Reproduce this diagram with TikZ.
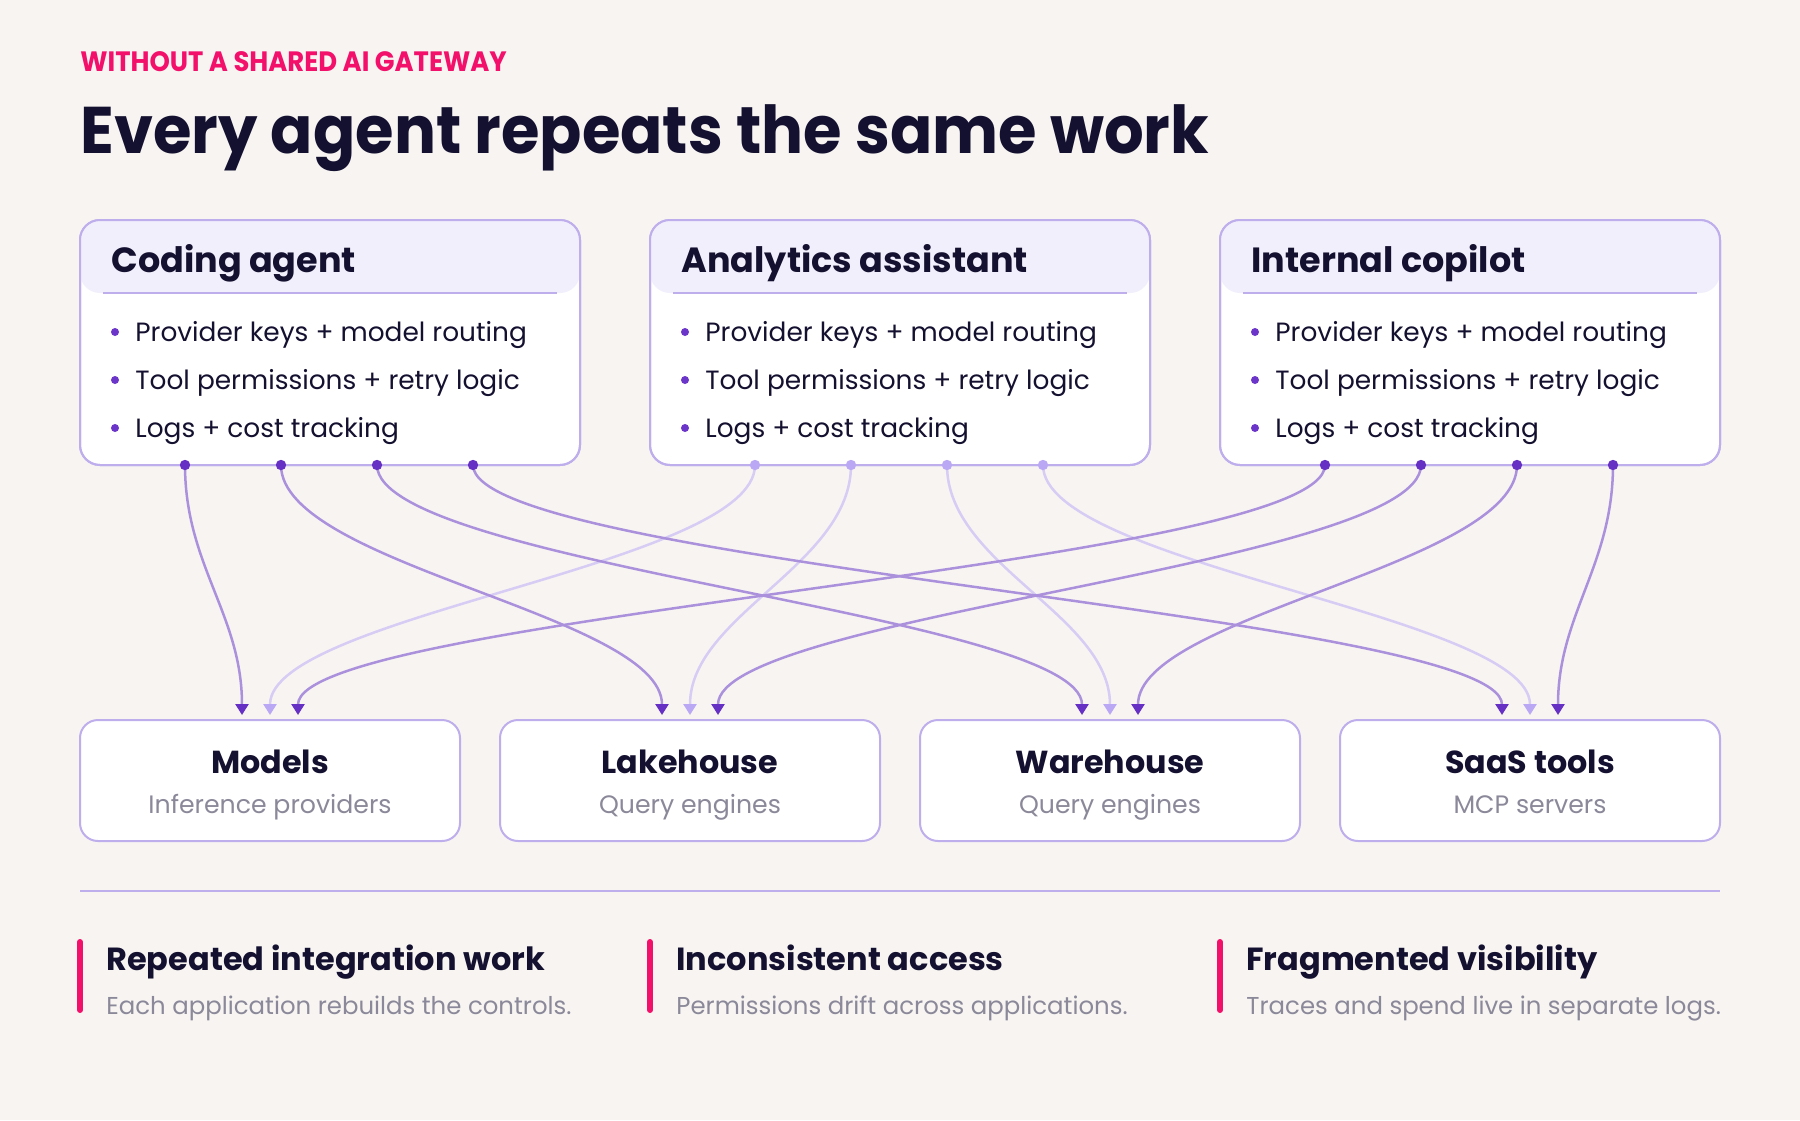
\documentclass[tikz,border=0pt]{standalone}
\usepackage{fontspec}
\setmainfont{Poppins}
\usetikzlibrary{arrows.meta}
\definecolor{bg}{HTML}{F7F4F2}
\definecolor{ink}{HTML}{14102F}
\definecolor{pinkc}{HTML}{F2106B}
\definecolor{grayc}{HTML}{8B8899}
\definecolor{borderc}{HTML}{BFAEEC}
\definecolor{bandc}{HTML}{F2EFFC}
\definecolor{bulletc}{HTML}{6B35C9}
\definecolor{tipDark}{HTML}{6630C4}
\definecolor{lineDark}{HTML}{AB91DC}
\definecolor{tipLight}{HTML}{BBA8F5}
\definecolor{lineLight}{HTML}{D6CCF4}
\tikzset{
  card/.style={draw=borderc, line width=1pt, fill=white, rounded corners=10pt, minimum width=250pt, minimum height=122.5pt, inner sep=0pt},
  band/.style={fill=bandc, rounded corners=10pt},
  sep/.style={draw=borderc, line width=1pt},
  cardtitle/.style={anchor=base west, inner sep=0pt, text=ink, font=\fontsize{17.5pt}{21pt}\selectfont\bfseries},
  bullettext/.style={anchor=base west, inner sep=0pt, text=ink, font=\fontsize{13.2pt}{16pt}\selectfont},
  bulletdot/.style={fill=bulletc, draw=none, circle, minimum size=4pt, inner sep=0pt},
  target/.style={draw=borderc, line width=1pt, fill=white, rounded corners=9pt, minimum width=190pt, minimum height=60.5pt, inner sep=0pt},
  targettitle/.style={anchor=base, inner sep=0pt, text=ink, font=\fontsize{15.9pt}{19pt}\selectfont\bfseries},
  targetsub/.style={anchor=base, inner sep=0pt, text=grayc, font=\fontsize{12.6pt}{15pt}\selectfont},
  darkconn/.style={draw=lineDark, line width=1.25pt, -{Triangle[width=6.5pt,length=5.5pt,color=tipDark]}},
  lightconn/.style={draw=lineLight, line width=1.25pt, -{Triangle[width=6.5pt,length=5.5pt,color=tipLight]}},
  darkdot/.style={fill=tipDark},
  lightdot/.style={fill=tipLight},
  pinkbar/.style={draw=pinkc, line width=3pt, line cap=round},
  noteh/.style={anchor=base west, inner sep=0pt, text=ink, font=\fontsize{16pt}{19pt}\selectfont\bfseries},
  notes/.style={anchor=base west, inner sep=0pt, text=grayc, font=\fontsize{12.2pt}{15pt}\selectfont},
}
\begin{document}
\begin{tikzpicture}[x=0.5pt,y=-0.5pt]
\fill[bg] (0,0) rectangle (1800,1120);
\useasboundingbox (0,0) rectangle (1800,1120);

% heading
\node[anchor=base west, inner sep=0pt, text=pinkc, font=\fontsize{14pt}{16pt}\selectfont\bfseries] (kicker) at (80,71) {\scalebox{0.925}[1]{WITHOUT A SHARED AI GATEWAY}};
\node[anchor=base west, inner sep=0pt, text=ink, font=\fontsize{33pt}{40pt}\selectfont\bfseries] (headline) at (80,153) {\scalebox{0.945}[1]{Every agent repeats the same work}};

% agent cards
\foreach \n/\x/\t in {ca/80/Coding agent, aa/650/Analytics assistant, ic/1220/Internal copilot}{
  \node[card] (\n) at (\x+250,342.5) {};
  \fill[band] (\x,220) rectangle (\x+500,293);
  \draw[sep] (\x+23,293) -- (\x+477,293);
  \draw[draw=borderc, line width=1pt, rounded corners=10pt] (\x,220) rectangle (\x+500,465);
  \node[cardtitle] (\n-t) at (\x+31,272) {\t};
  \node[bulletdot] (\n-b1) at (\x+35,332) {};
  \node[bullettext] (\n-l1) at (\x+55,341) {Provider keys + model routing};
  \node[bulletdot] (\n-b2) at (\x+35,380) {};
  \node[bullettext] (\n-l2) at (\x+55,389) {Tool permissions + retry logic};
  \node[bulletdot] (\n-b3) at (\x+35,428) {};
  \node[bullettext] (\n-l3) at (\x+55,437) {Logs + cost tracking};
  \foreach \k in {1,2,3,4}{
    \coordinate (\n-d\k) at (\x+105+96*\k-96,465);
  }
}

% target boxes
\foreach \n/\x/\t/\s in {mo/80/Models/Inference providers, lh/500/Lakehouse/Query engines, wh/920/Warehouse/Query engines, st/1340/SaaS tools/MCP servers}{
  \node[target] (\n) at (\x+190,780.5) {};
  \node[targettitle] (\n-t) at (\x+190,773) {\t};
  \node[targetsub] (\n-s) at (\x+190,813) {\s};
  \coordinate (\n-l) at (\x+162,715);
  \coordinate (\n-c) at (\x+190,715);
  \coordinate (\n-r) at (\x+218,715);
}

% connectors
\foreach \k/\tg in {1/mo,2/lh,3/wh,4/st}{
  \draw[lightconn] (aa-d\k) .. controls +(0,100) and +(0,-100) .. (\tg-c);
}
\foreach \k/\tg in {1/mo,2/lh,3/wh,4/st}{
  \draw[darkconn] (ca-d\k) .. controls +(0,100) and +(0,-100) .. (\tg-l);
  \draw[darkconn] (ic-d\k) .. controls +(0,100) and +(0,-100) .. (\tg-r);
}
\foreach \k in {1,2,3,4}{
  \fill[darkdot] (ca-d\k) circle (2.6pt);
  \fill[lightdot] (aa-d\k) circle (2.6pt);
  \fill[darkdot] (ic-d\k) circle (2.6pt);
}

% divider
\draw[draw=borderc, line width=1pt] (80,891) -- (1720,891) coordinate (divend);

% notes
\foreach \n/\x/\h/\s in {n1/80/Repeated integration work/Each application rebuilds the controls., n2/650/Inconsistent access/Permissions drift across applications., n3/1220/Fragmented visibility/Traces and spend live in separate logs.}{
  \draw[pinkbar] (\x,942) -- (\x,1010);
  \node[noteh] (\n-h) at (\x+26,970) {\h};
  \node[notes] (\n-s) at (\x+26,1014) {\s};
}
\end{tikzpicture}
\end{document}
